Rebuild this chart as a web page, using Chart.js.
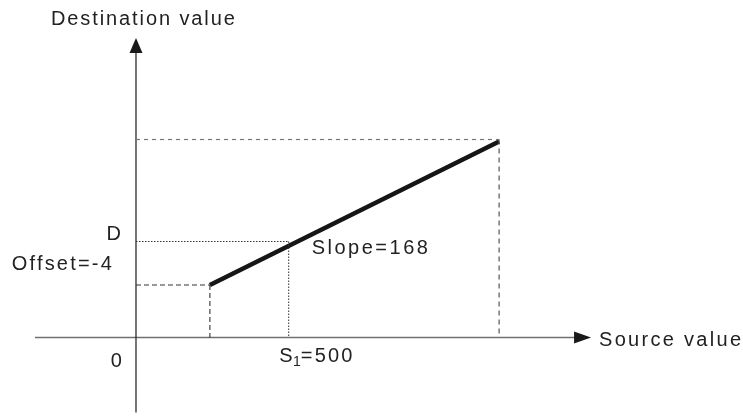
<!DOCTYPE html>
<html>
<head>
<meta charset="utf-8">
<script src="https://cdn.jsdelivr.net/npm/chart.js@4/dist/chart.umd.min.js"></script>
<style>
  html, body { margin: 0; padding: 0; background: #fff; }
  #graph { display: block; }
</style>
</head>
<body>
<canvas id="graph" width="743" height="417"></canvas>
<script>
// scaling line, in source / destination units
const sourcePts = [242, 1189]
const destPts = [52.5, 196]
// marked point on the line
const s1Value = [500]
const dValue = [96]
// axis extents (source axis, destination axis)
const sourceAxis = [-331, 1490]
const destAxis = [-75, 299.5]
// texts
const yTitle = "Destination value"
const xTitle = "Source value"
const slopeText = "Slope=168"
const offsetText = "Offset=-4"

const FONT = '"Liberation Sans", Arial, sans-serif'

const linePts = sourcePts.map((x, i) => ({x: x, y: destPts[i]}))
const endX = sourcePts[1], endY = destPts[1]
const startX = sourcePts[0], startY = destPts[0]

function guide(pts, color, dash, width) {
    return {
        data: pts,
        borderColor: color,
        borderWidth: width,
        borderDash: dash,
        pointRadius: 0,
        showLine: true,
        fill: false,
        tension: 0,
    }
}

function setFont(ctx, size, spacing) {
    ctx.font = size + "px " + FONT
    ctx.letterSpacing = spacing + "px"
}

// axes, arrows and labels, placed through the chart scales
const drawExtras = {
    id: "extras",
    beforeDatasetsDraw(chart) {
        const ctx = chart.ctx
        const xs = chart.scales.x, ys = chart.scales.y
        const ox = xs.getPixelForValue(0), oy = ys.getPixelForValue(0)
        ctx.save()
        // x axis
        ctx.strokeStyle = "#707070"
        ctx.lineWidth = 1.5
        ctx.beginPath()
        ctx.moveTo(xs.getPixelForValue(sourceAxis[0]), oy)
        ctx.lineTo(xs.getPixelForValue(sourceAxis[1]) - 10, oy)
        ctx.stroke()
        // y axis
        ctx.strokeStyle = "#1a1a1a"
        ctx.lineWidth = 1.2
        ctx.beginPath()
        ctx.moveTo(ox, ys.getPixelForValue(destAxis[0]))
        ctx.lineTo(ox, ys.getPixelForValue(destAxis[1]) + 10)
        ctx.stroke()
        ctx.restore()
    },
    afterDatasetsDraw(chart) {
        const ctx = chart.ctx
        const xs = chart.scales.x, ys = chart.scales.y
        const ox = xs.getPixelForValue(0), oy = ys.getPixelForValue(0)
        ctx.save()
        ctx.fillStyle = "#1a1a1a"
        // arrow heads
        let tx = xs.getPixelForValue(sourceAxis[1])
        ctx.beginPath()
        ctx.moveTo(tx, oy)
        ctx.lineTo(tx - 17, oy - 6)
        ctx.lineTo(tx - 17, oy + 6)
        ctx.closePath()
        ctx.fill()
        let ty = ys.getPixelForValue(destAxis[1])
        ctx.beginPath()
        ctx.moveTo(ox, ty)
        ctx.lineTo(ox - 6.5, ty + 15)
        ctx.lineTo(ox + 6.5, ty + 15)
        ctx.closePath()
        ctx.fill()

        // labels
        ctx.fillStyle = "#222"
        setFont(ctx, 20, 1.9)
        ctx.textBaseline = "alphabetic"
        ctx.textAlign = "left"
        ctx.fillText(yTitle, ox - 85, ty - 13)
        setFont(ctx, 20, 2.3)
        ctx.fillText(xTitle, tx + 8, oy + 8)
        const sx = xs.getPixelForValue(s1Value[0])
        const dy = ys.getPixelForValue(dValue[0])
        setFont(ctx, 20, 2.5)
        ctx.fillText(slopeText, sx + 23, dy + 12)

        ctx.textAlign = "right"
        setFont(ctx, 20, 0)
        ctx.fillText("D", ox - 15, dy - 2)
        setFont(ctx, 20, 2.2)
        ctx.fillText(offsetText, ox - 22, ys.getPixelForValue(startY) - 15)
        setFont(ctx, 20, 0)
        ctx.fillText("0", ox - 14, oy + 29)

        // S1=500 with subscript
        ctx.textAlign = "left"
        let px = sx - 9.5
        setFont(ctx, 20, 0)
        ctx.fillText("S", px, oy + 24)
        px += ctx.measureText("S").width + 0.5
        setFont(ctx, 14, 0)
        ctx.fillText("1", px, oy + 28)
        px += ctx.measureText("1").width
        setFont(ctx, 20, 2.2)
        ctx.fillText("=" + s1Value[0], px, oy + 24)
        ctx.restore()
    }
}

new Chart("graph", {
    type: "scatter",
    data: {
        datasets: [
            // top guide to the line end
            guide([{x: 0, y: endY + 2}, {x: endX, y: endY + 2}], "#777", [4, 4], 1.2),
            guide([{x: endX, y: endY + 2}, {x: endX, y: 0}], "#555", [5, 4], 1.2),
            // guides to the line start
            guide([{x: 0, y: startY}, {x: startX, y: startY}], "#333", [5, 3], 1.1),
            guide([{x: startX, y: startY}, {x: startX, y: 0}], "#333", [5, 3], 1.1),
            // dotted guides for S1 / D
            guide([{x: 0, y: dValue[0]}, {x: s1Value[0], y: dValue[0]}], "#333", [1.5, 1.5], 1),
            guide([{x: s1Value[0], y: dValue[0]}, {x: s1Value[0], y: 0}], "#333", [1.5, 1.5], 1),
            {
                data: linePts,
                borderColor: "#161616",
                borderWidth: 4.5,
                pointRadius: 0,
                showLine: true,
                fill: false,
                tension: 0,
            },
        ],
    },
    options: {
        responsive: false,
        animation: false,
        devicePixelRatio: 1,
        layout: {padding: 0},
        plugins: {legend: {display: false}, tooltip: {enabled: false}},
        scales: {
            x: {type: "linear", display: false, min: -445.3, max: 1987.6},
            y: {type: "linear", display: false, min: -79.5, max: 337.5},
        },
    },
    plugins: [drawExtras],
});
</script>
</body>
</html>
